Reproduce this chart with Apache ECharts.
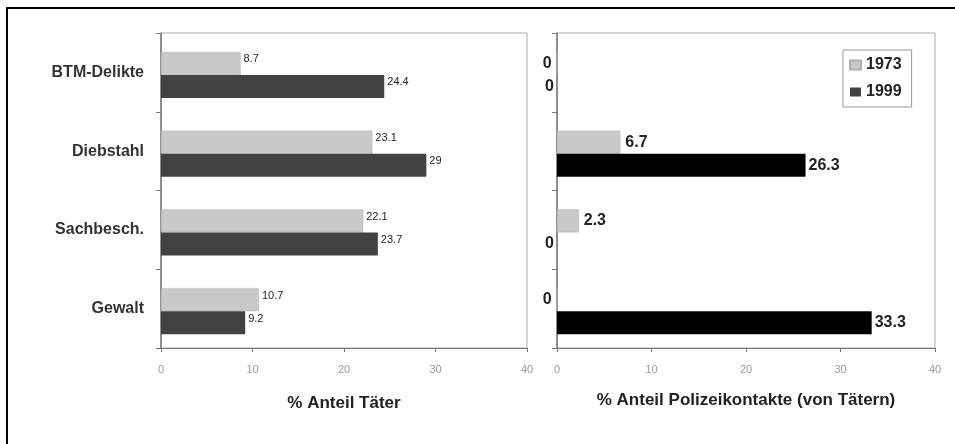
<!DOCTYPE html>
<html><head><meta charset="utf-8">
<script src="https://cdn.jsdelivr.net/npm/echarts@6/dist/echarts.min.js"></script>
<style>html,body{margin:0;padding:0;background:#fff}#c{width:955px;height:444px}</style>
</head><body><div id="c"></div>
<script>
const categories = ['BTM-Delikte', 'Diebstahl', 'Sachbesch.', 'Gewalt'];
const years = ['1973', '1999'];
const taeter1973 = [8.7, 23.1, 22.1, 10.7];
const taeter1999 = [24.4, 29, 23.7, 9.2];
const polizei1973 = [0, 6.7, 2.3, 0];
const polizei1999 = [0, 26.3, 0, 33.3];
const xTicks = [0, 10, 20, 30, 40];

const chart = echarts.init(document.getElementById('c'));
const font = 'Liberation Sans, Arial, sans-serif';

function withLabels(arr) {
  return arr.map(v => ({ value: v, label: { position: v === 0 ? 'left' : 'right' } }));
}

const xAxisBase = (gi, name, gap) => ({
  type: 'value', gridIndex: gi, min: xTicks[0], max: xTicks[xTicks.length - 1], interval: 10,
  name: name, nameLocation: 'middle', nameGap: gap,
  nameTextStyle: { fontFamily: font, fontWeight: 'bold', fontSize: 17, color: '#222' },
  axisLine: { show: true, lineStyle: { color: '#777', width: 1 } },
  axisTick: { show: true, length: 4, lineStyle: { color: '#777' } },
  axisLabel: { fontFamily: font, fontSize: 11, color: '#999', margin: 16 },
  splitLine: { show: false }
});
const yAxisBase = (gi, showLabels) => ({
  type: 'category', gridIndex: gi, data: categories, inverse: true,
  axisLine: { show: true, lineStyle: { color: '#777', width: 1.5 } },
  axisTick: { show: true, length: 5, lineStyle: { color: '#777' } },
  axisLabel: { show: showLabels, fontFamily: font, fontSize: 16, fontWeight: 'bold', color: '#333', margin: 17 }
});
const hiddenX = (gi) => ({ type: 'value', gridIndex: gi, min: xTicks[0], max: xTicks[xTicks.length - 1], show: false });
const hiddenY = (gi) => ({ type: 'category', gridIndex: gi, data: categories, inverse: true, show: false });

chart.setOption({
  animation: false,
  backgroundColor: '#fff',
  grid: [
    { left: 161, top: 33, width: 366, height: 315, show: true, borderColor: '#aaa', borderWidth: 1, backgroundColor: 'transparent' },
    { left: 557, top: 33, width: 378, height: 315, show: true, borderColor: '#aaa', borderWidth: 1, backgroundColor: 'transparent' },
    { left: 161, top: 35.5, width: 366, height: 315 },
    { left: 557, top: 35.5, width: 378, height: 315 }
  ],
  legend: {
    data: years, orient: 'vertical', left: 843, top: 50, icon: 'rect',
    padding: [7, 10, 7, 6], itemGap: 11,
    borderColor: '#999', borderWidth: 1, itemWidth: 11, itemHeight: 9,
    textStyle: { fontFamily: font, fontWeight: 'bold', fontSize: 16, color: '#222' }
  },
  xAxis: [xAxisBase(0, '% Anteil Täter', 47), xAxisBase(1, '% Anteil Polizeikontakte (von Tätern)', 44), hiddenX(2), hiddenX(3)],
  yAxis: [yAxisBase(0, true), yAxisBase(1, false), hiddenY(2), hiddenY(3)],
  series: [
    { name: '1973', type: 'bar', xAxisIndex: 2, yAxisIndex: 2, data: taeter1973, barWidth: 23, barGap: '0%',
      itemStyle: { color: '#c9c9c9', borderColor: '#b0b0b0', borderWidth: 0.5 },
      label: { show: true, position: 'right', distance: 3, fontFamily: font, fontSize: 11, color: '#222', offset: [0, -4] } },
    { name: '1999', type: 'bar', xAxisIndex: 2, yAxisIndex: 2, data: taeter1999, barWidth: 23, barGap: '0%',
      itemStyle: { color: '#424242' },
      label: { show: true, position: 'right', distance: 3, fontFamily: font, fontSize: 11, color: '#222', offset: [0, -4] } },
    { name: '1973', type: 'bar', xAxisIndex: 3, yAxisIndex: 3, data: withLabels(polizei1973), barWidth: 23, barGap: '0%',
      itemStyle: { color: '#c9c9c9', borderColor: '#b0b0b0', borderWidth: 0.5 },
      label: { show: true, distance: 5, fontFamily: font, fontSize: 16, fontWeight: 'bold', color: '#222' } },
    { name: '1999', type: 'bar', xAxisIndex: 3, yAxisIndex: 3, data: withLabels(polizei1999), barWidth: 23, barGap: '0%',
      itemStyle: { color: '#000' },
      label: { show: true, distance: 3, fontFamily: font, fontSize: 16, fontWeight: 'bold', color: '#222' } }
  ],
  graphic: [
    { type: 'polyline', shape: { points: [[7, 444], [7, 8], [955, 8]] }, style: { stroke: '#000', lineWidth: 2, fill: null } }
  ]
});
</script></body></html>
